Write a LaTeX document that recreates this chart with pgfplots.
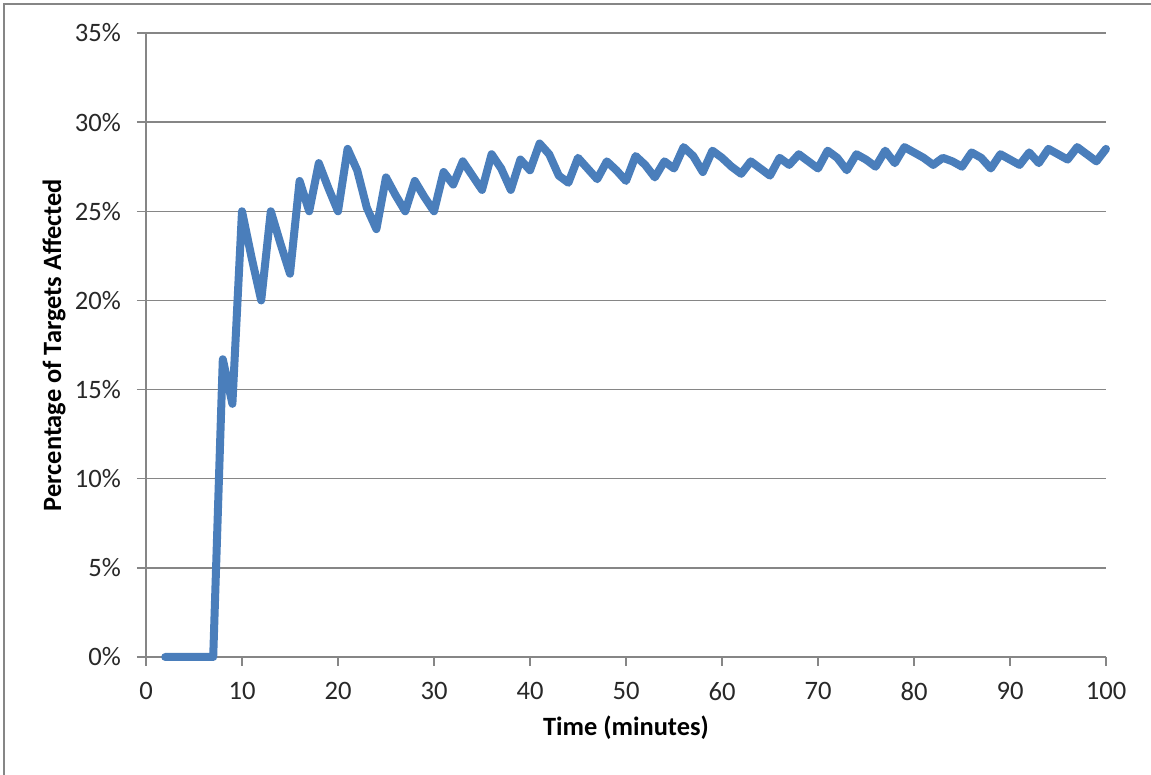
\documentclass[border=0pt]{standalone}
\usepackage{pgfplots}
\pgfplotsset{compat=1.18}
\usepackage{fontspec}
\setmainfont{Carlito}
\definecolor{exblue}{RGB}{74,126,187}
\definecolor{gridgrey}{RGB}{134,134,134}
\definecolor{ticktext}{RGB}{40,40,40}
\begin{document}
\begin{tikzpicture}
\useasboundingbox (0,0) rectangle (575.5pt,387.5pt);
\draw[gridgrey, line width=1pt] (2pt,0) -- (2pt,385.5pt) -- (575.5pt,385.5pt);
\begin{axis}[
  at={(73pt,59pt)}, anchor=south west,
  scale only axis, width=480pt, height=312pt,
  xmin=0, xmax=100, ymin=0, ymax=35,
  xtick={0,10,...,100},
  ytick={0,5,...,35},
  yticklabels={0\%,5\%,10\%,15\%,20\%,25\%,30\%,35\%},
  axis x line*=bottom, axis y line*=left,
  axis line style={gridgrey, line width=0.75pt, -},
  tick style={gridgrey, line width=0.75pt},
  tick align=outside, major tick length=4.5pt,
  ymajorgrids, grid style={gridgrey, line width=0.75pt},
  /pgf/number format/assume math mode=true,
  tick label style={font=\fontsize{13.3}{15}\selectfont, text=ticktext},
  xticklabel style={yshift=-4.5pt},
  yticklabel style={xshift=-4.5pt},
  xlabel={Time (minutes)}, ylabel={Percentage of Targets Affected},
  label style={font=\fontsize{13.2}{15}\selectfont\bfseries},
  xlabel style={at={(axis description cs:0.5,-0.1138)}, anchor=center},
  ylabel style={at={(axis description cs:-0.0958,0.5)}, anchor=center},
  clip=false,
]
\addplot[exblue, line width=4pt, line join=round, line cap=round] table {
x y
2 0
3 0
4 0
5 0
6 0
7 0
8 16.7
9 14.2
10 25.0
11 22.4
12 20.0
13 25.0
14 23.2
15 21.5
16 26.7
17 25.0
18 27.7
19 26.3
20 25.0
21 28.5
22 27.3
23 25.2
24 24.0
25 26.9
26 25.9
27 25.0
28 26.7
29 25.8
30 25.0
31 27.2
32 26.5
33 27.8
34 27.0
35 26.2
36 28.2
37 27.4
38 26.2
39 27.9
40 27.3
41 28.8
42 28.2
43 27.0
44 26.6
45 28.0
46 27.4
47 26.8
48 27.8
49 27.3
50 26.7
51 28.1
52 27.6
53 26.9
54 27.8
55 27.4
56 28.6
57 28.1
58 27.2
59 28.4
60 28.0
61 27.5
62 27.1
63 27.8
64 27.4
65 27.0
66 28.0
67 27.6
68 28.2
69 27.8
70 27.4
71 28.4
72 28.0
73 27.3
74 28.2
75 27.9
76 27.5
77 28.4
78 27.7
79 28.6
80 28.3
81 28.0
82 27.6
83 28.0
84 27.8
85 27.5
86 28.3
87 28.0
88 27.4
89 28.2
90 27.9
91 27.6
92 28.3
93 27.7
94 28.5
95 28.2
96 27.9
97 28.6
98 28.2
99 27.8
100 28.5
};
\end{axis}
\end{tikzpicture}
\end{document}
